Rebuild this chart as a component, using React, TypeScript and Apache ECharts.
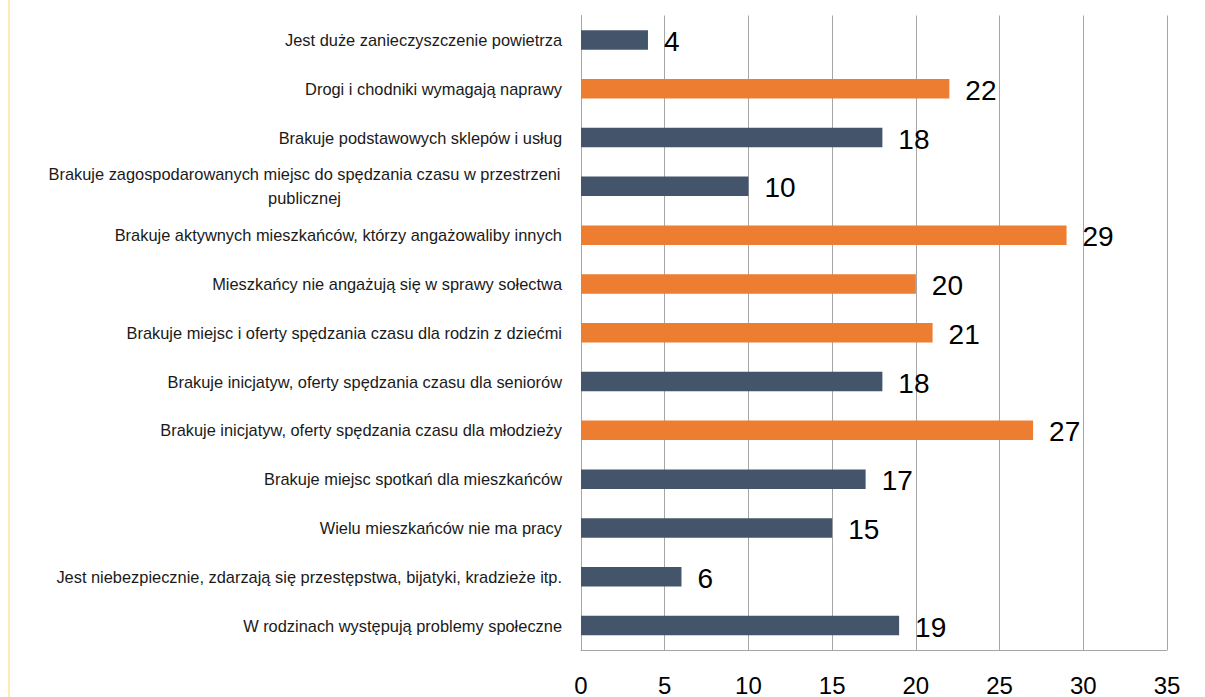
import React, { useEffect, useRef } from "react";
import * as echarts from "echarts";

const categories: string[] = [
  "Jest duże zanieczyszczenie powietrza",
  "Drogi i chodniki wymagają naprawy",
  "Brakuje podstawowych sklepów i usług",
  "Brakuje zagospodarowanych miejsc do spędzania czasu w przestrzeni\npublicznej",
  "Brakuje aktywnych mieszkańców, którzy angażowaliby innych",
  "Mieszkańcy nie angażują się w sprawy sołectwa",
  "Brakuje miejsc i oferty spędzania czasu dla rodzin z dziećmi",
  "Brakuje inicjatyw, oferty spędzania czasu dla seniorów",
  "Brakuje inicjatyw, oferty spędzania czasu dla młodzieży",
  "Brakuje miejsc spotkań dla mieszkańców",
  "Wielu mieszkańców nie ma pracy",
  "Jest niebezpiecznie, zdarzają się przestępstwa, bijatyki, kradzieże itp.",
  "W rodzinach występują problemy społeczne",
];

const values: number[] = [4, 22, 18, 10, 29, 20, 21, 18, 27, 17, 15, 6, 19];

const xTicks: number[] = [0, 5, 10, 15, 20, 25, 30, 35];

const HIGHLIGHT_THRESHOLD = 20;
const BLUE = "#44546A";
const ORANGE = "#ED7D31";
const FONT = "'Liberation Sans', Arial, sans-serif";
const CAT_SIZE = 16.4;

function measure(text: string, size: number): number {
  const c = document.createElement("canvas").getContext("2d");
  if (!c) return text.length * size * 0.5;
  c.font = `${size}px 'Liberation Sans', Arial, sans-serif`;
  return c.measureText(text).width;
}

export default function App() {
  const ref = useRef<HTMLDivElement>(null);

  useEffect(() => {
    if (!ref.current) return;
    const chart = echarts.init(ref.current, undefined, { renderer: "svg" });

    const wrapped = categories.find((c) => c.indexOf("\n") >= 0);
    const wrapWidth = wrapped
      ? Math.ceil(measure(wrapped.split("\n")[0], CAT_SIZE)) + 2
      : 0;

    const option: any = {
      animation: false,
      backgroundColor: "#ffffff",
      grid: { left: 581, right: 38, top: 15.5, bottom: 45.2, containLabel: false },
      xAxis: {
        type: "value",
        min: xTicks[0],
        max: xTicks[xTicks.length - 1],
        interval: 5,
        axisLine: { show: true, lineStyle: { color: "#A6A6A6", width: 1 } },
        axisTick: { show: false },
        splitLine: { show: true, lineStyle: { color: "#A6A6A6", width: 1 } },
        axisLabel: {
          fontFamily: FONT,
          fontSize: 24,
          color: "#000000",
          margin: 23,
        },
      },
      yAxis: {
        type: "category",
        inverse: true,
        data: categories,
        axisLine: { show: true, lineStyle: { color: "#A6A6A6", width: 1 } },
        axisTick: { show: false },
        splitLine: { show: false },
        axisLabel: {
          fontFamily: FONT,
          fontSize: CAT_SIZE,
          color: "#1a1a1a",
          margin: 19,
          lineHeight: 24,
          formatter: (v: string) => {
            if (v.indexOf("\n") >= 0) {
              return v
                .split("\n")
                .map((l) => `{c|${l}}`)
                .join("\n");
            }
            return v;
          },
          rich: {
            c: {
              fontFamily: FONT,
              fontSize: CAT_SIZE,
              color: "#1a1a1a",
              lineHeight: 24,
              align: "center",
              width: wrapWidth,
            },
          },
        },
      },
      series: [
        {
          type: "bar",
          data: values.map((v) => ({
            value: v,
            itemStyle: { color: v >= HIGHLIGHT_THRESHOLD ? ORANGE : BLUE },
          })),
          barWidth: 19.5,
          label: {
            show: true,
            position: "right",
            distance: 16,
            offset: [0, 1.5],
            fontFamily: FONT,
            fontSize: 28,
            color: "#000000",
          },
        },
      ],
      graphic: [
        {
          type: "line",
          shape: { x1: 9, y1: 0, x2: 9, y2: 697 },
          style: { stroke: "#FFE699", lineWidth: 1.5 },
          silent: true,
        },
      ],
    };

    chart.setOption(option);
    return () => chart.dispose();
  }, []);

  return (
    <div
      ref={ref}
      style={{ position: "fixed", left: 0, top: 0, width: 1205, height: 697 }}
    />
  );
}
